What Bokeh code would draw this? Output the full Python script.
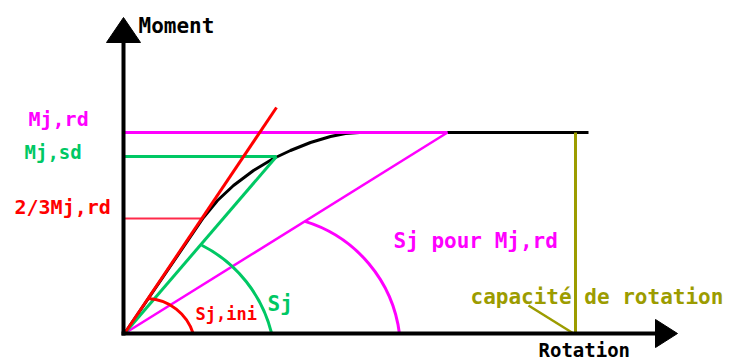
from bokeh.plotting import figure
from bokeh.embed import file_html
from bokeh.resources import INLINE
from bokeh.core.properties import value

# ---- data (schematic units: rotation, moment) ----
mj_rd = 201
mj_sd = 177
two_thirds_mj_rd = 115

# initial stiffness line (Sj,ini)
sj_ini_rot = [0, 152]
sj_ini_mom = [0, 226]
# secant stiffness Sj up to Mj,sd
sj_rot = [0, 152]
sj_mom = [0, 177]
# stiffness Sj for Mj,rd
sj_rd_rot = [0, 323]
sj_rd_mom = [0, 201]
# moment-rotation curve
curve_rot = [0, 79, 93, 109, 129, 149, 166, 186, 206, 221, 235, 464]
curve_mom = [0, 116, 133, 148, 163, 175, 183, 191, 197, 200, 201, 201]
# rotation capacity
capacity_rot = 451
capacity_mark_rot = [404, 449]
capacity_mark_mom = [28, 0]

# angle arcs (centre rot, centre mom, radius, start deg, end deg)
arc_ini = (21, -15, 50, 17, 87)
arc_sj = (16, -32, 135, 14, 63)
arc_rd = (141, -17, 135, 7, 73)

# axes extents
y_axis_top = 316
x_axis_end = 553

MAGENTA = "#ff00ff"
GREEN = "#00c864"
RED = "#ff0000"
OLIVE = "#9c9c00"
FONT = value("DejaVu Sans Mono")

p = figure(width=732, height=363, x_range=(-124, 608), y_range=(-30, 333),
           output_backend="svg", toolbar_location=None,
           x_axis_location=None, y_axis_location=None, min_border=0)
p.grid.visible = False
p.outline_line_color = None

# curve
p.line(curve_rot, curve_mom, line_color="black", line_width=3)

# magenta
p.line([0, sj_rd_rot[1]], [mj_rd, mj_rd], line_color=MAGENTA, line_width=3)
p.line(sj_rd_rot, sj_rd_mom, line_color=MAGENTA, line_width=2.5)

# green
p.line([0, sj_rot[1]], [mj_sd, mj_sd], line_color=GREEN, line_width=3)
p.line(sj_rot, sj_mom, line_color=GREEN, line_width=3)

# red
p.line([0, 77], [two_thirds_mj_rd, two_thirds_mj_rd], line_color="#ff2a4a", line_width=2)
p.line(sj_ini_rot, sj_ini_mom, line_color=RED, line_width=3)

# arcs
for (cx, cy, r, a0, a1), col in [(arc_ini, RED), (arc_sj, GREEN), (arc_rd, MAGENTA)]:
    p.arc(x=[cx], y=[cy], radius=r, start_angle=a0, end_angle=a1,
          start_angle_units="deg", end_angle_units="deg", line_color=col, line_width=3)

# rotation capacity
p.line([capacity_rot, capacity_rot], [0, mj_rd], line_color=OLIVE, line_width=3)
p.line(capacity_mark_rot, capacity_mark_mom, line_color=OLIVE, line_width=2.5)

# axes with arrowheads
head_len_y, head_half_y = 25, 17
head_len_x, head_half_x = 22, 14
p.line([-1, -1], [-2, y_axis_top - head_len_y], line_color="black", line_width=4)
p.patch([-1 - head_half_y, -1, -1 + head_half_y],
        [y_axis_top - head_len_y, y_axis_top, y_axis_top - head_len_y],
        fill_color="black", line_color="black")
p.line([-3, x_axis_end - head_len_x], [0, 0], line_color="black", line_width=4)
p.patch([x_axis_end - head_len_x, x_axis_end, x_axis_end - head_len_x],
        [head_half_x, 0, -head_half_x], fill_color="black", line_color="black")

# labels
labels = [
    ("Moment", 14, 307.5, "black", "21px"),
    ("Mj,rd", -96, 214.5, MAGENTA, "20px"),
    ("Mj,sd", -100, 182, GREEN, "19px"),
    ("2/3Mj,rd", -110, 126.5, RED, "20px"),
    ("Sj,ini", 71, 19.5, RED, "17px"),
    ("Sj", 143, 30, GREEN, "21px"),
    ("Sj pour Mj,rd", 269, 93, MAGENTA, "21px"),
    ("capacité de rotation", 346, 37, OLIVE, "21px"),
    ("Rotation", 414, -16, "black", "19px"),
]
for txt, x, y, col, size in labels:
    p.text(x=[x], y=[y], text=[txt], text_color=col, text_font=FONT,
           text_font_size=size, text_font_style="bold",
           text_align="left", text_baseline="middle")

open("out.html", "w").write(file_html(p, INLINE))
